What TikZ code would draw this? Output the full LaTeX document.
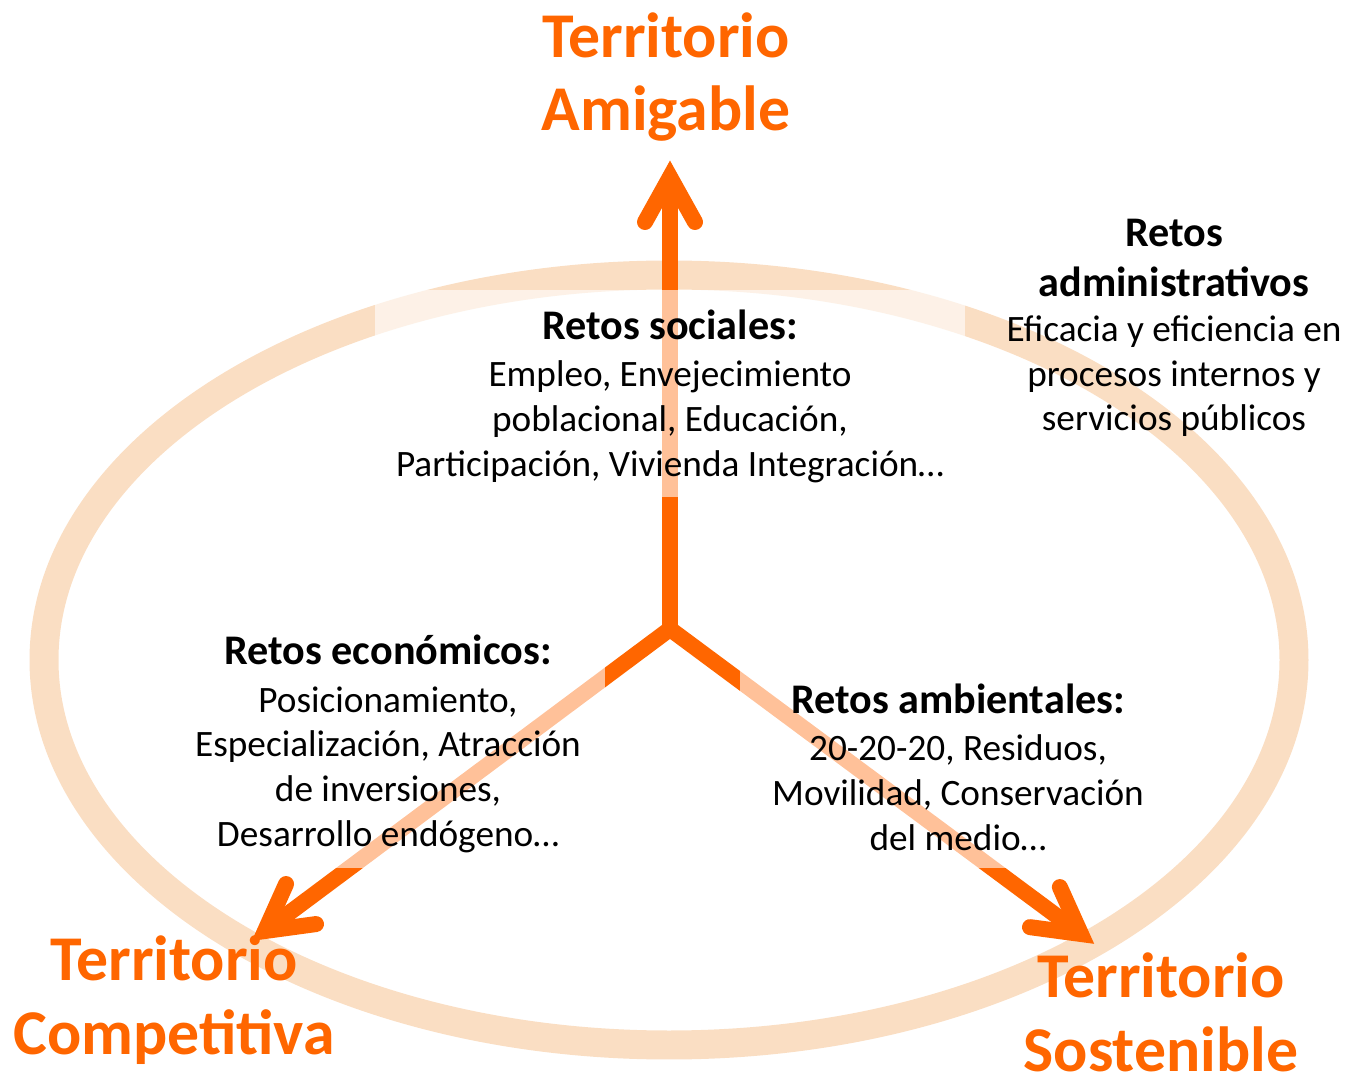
\documentclass[tikz,border=0pt]{standalone}
\usepackage{fontspec}
\setmainfont{Carlito}
\definecolor{orng}{RGB}{255,102,0}
\definecolor{beige}{RGB}{250,222,195}
\tikzset{
  ring/.style={draw=beige, line width=0.58cm},
  shaft/.style={draw=orng, line width=0.32cm, line join=miter},
  head/.style={draw=orng, line width=0.32cm, line join=miter, line cap=round},
  fade/.style={fill=white, fill opacity=0.6},
  title/.style={text=orng, align=center, inner sep=0pt, font=\bfseries\fontsize{36.3}{42}\selectfont},
  body/.style={text=black, align=center, inner sep=0pt, font=\fontsize{21.2}{25.5}\selectfont},
}
\newcommand{\hdg}[1]{{\bfseries\fontsize{24}{29}\selectfont #1}}
\begin{document}
\begin{tikzpicture}[x=0.02cm, y=0.02cm]
\useasboundingbox (0,0) rectangle (1347,-1074);
% ring
\draw[ring] (669,-660) ellipse [x radius=625, y radius=385];
% arrows
\coordinate (J) at (670,-629);
\coordinate (TA) at (670,-177);
\coordinate (TL) at (265,-931);
\coordinate (TR) at (1081,-934);
\draw[shaft] (TL) -- (J) -- (TR);
\draw[shaft] (J) -- (TA);
\draw[head, shift={(TA)}, rotate=90] (-45,25) -- (0,0) -- (-45,-25);
\draw[head, shift={(TL)}, rotate=216.8] (-45,25) -- (0,0) -- (-45,-25);
\draw[head, shift={(TR)}, rotate=-36.7] (-45,25) -- (0,0) -- (-45,-25);
% fades behind text
\fill[fade] (375,-290) rectangle (965,-497);
\fill[fade] (185,-625) rectangle (605,-868);
\fill[fade] (740,-665) rectangle (1165,-868);
% titles
\node[title] (amig) at (666,-77) {Territorio\\Amigable};
\node[title] (comp) at (174,-1000) {Territorio\\Competitiva};
\node[title] (sost) at (1161,-1012) {Territorio\\Sostenible};
% texts
\node[body] (soc) at (670,-396) {\hdg{Retos sociales:}\\[1.5pt]Empleo, Envejecimiento\\poblacional, Educación,\\Participación, Vivienda Integración…};
\node[body] (adm) at (1174,-328) {\hdg{Retos}\\[3pt]\hdg{administrativos}\\[0pt]Eficacia y eficiencia en\\procesos internos y\\servicios públicos};
\node[body] (eco) at (388,-744) {\hdg{Retos económicos:}\\[1.5pt]Posicionamiento,\\Especialización, Atracción\\de inversiones,\\Desarrollo endógeno…};
\node[body] (amb) at (958,-767) {\hdg{Retos ambientales:}\\[1.5pt]20-20-20, Residuos,\\Movilidad, Conservación\\del medio…};
\end{tikzpicture}
\end{document}
